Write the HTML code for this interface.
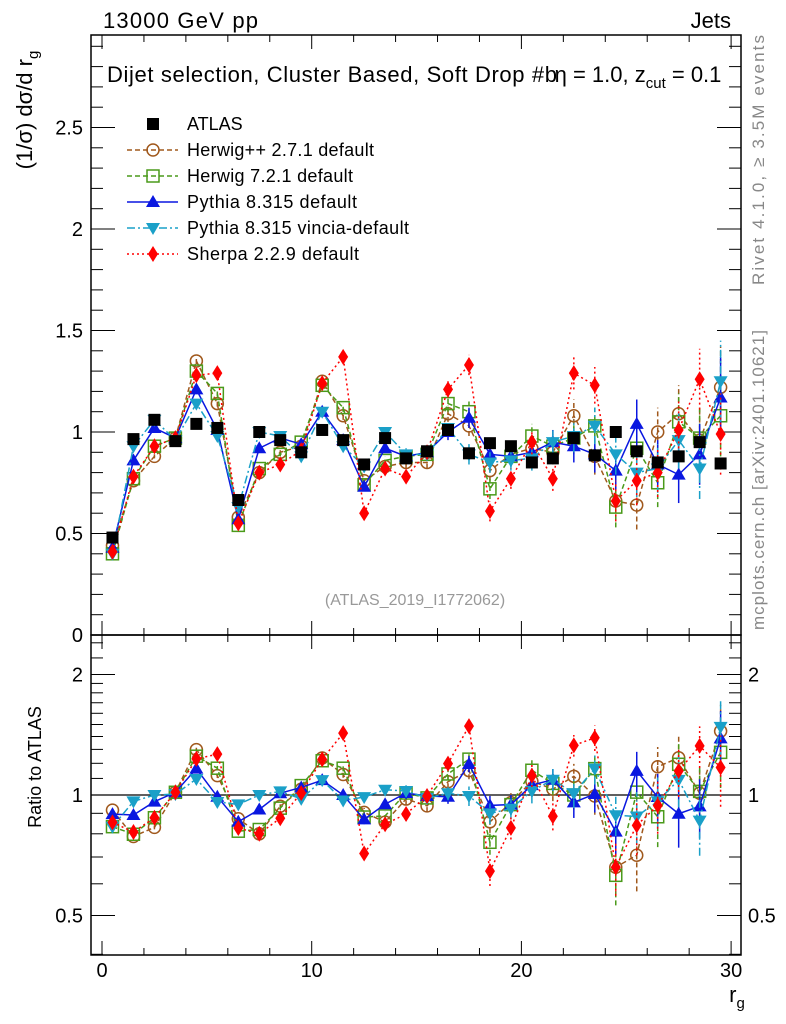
<!DOCTYPE html>
<html><head><meta charset="utf-8"><style>
body{margin:0;background:#fff;}
svg{display:block;font-family:"Liberation Sans",sans-serif;}
</style></head><body>
<svg id="c" width="786" height="1024" viewBox="0 0 786 1024" xmlns="http://www.w3.org/2000/svg">
<text x="103" y="28" font-size="22" textLength="155">13000 GeV pp</text>
<text x="731" y="28" font-size="22" text-anchor="end">Jets</text>
<text x="107" y="82" font-size="22"><tspan textLength="450">Dijet selection, Cluster Based, Soft Drop #b</tspan><tspan dx="-3">η = 1.0, z</tspan><tspan font-size="15" dy="6">cut</tspan><tspan dy="-6"> = 0.1</tspan></text>
<text transform="translate(32,110) rotate(-90)" font-size="22" text-anchor="middle">(1/σ) dσ/d r<tspan font-size="15" dy="6">g</tspan></text>
<text transform="translate(41,767) rotate(-90)" font-size="18" text-anchor="middle">Ratio to ATLAS</text>
<text transform="translate(764,160) rotate(-90)" font-size="17" fill="#888" text-anchor="middle" textLength="250">Rivet 4.1.0, ≥ 3.5M events</text>
<text transform="translate(764,480) rotate(-90)" font-size="17" fill="#888" text-anchor="middle" textLength="300">mcplots.cern.ch [arXiv:2401.10621]</text>
<text x="415" y="605" font-size="16" fill="#999" text-anchor="middle">(ATLAS_2019_I1772062)</text>
<text x="737" y="1002" font-size="22" text-anchor="middle">r<tspan font-size="15" dy="6">g</tspan></text>
<g id="main"></g>
<g id="ratio"></g>
<g id="legend"></g>
</svg>
<script>
const binCenters=[0.5,1.5,2.5,3.5,4.5,5.5,6.5,7.5,8.5,9.5,10.5,11.5,12.5,13.5,14.5,15.5,16.5,17.5,18.5,19.5,20.5,21.5,22.5,23.5,24.5,25.5,26.5,27.5,28.5,29.5];
const atlas=[0.48,0.965,1.06,0.955,1.04,1.02,0.665,1.0,0.96,0.9,1.01,0.96,0.84,0.97,0.87,0.905,1.01,0.895,0.945,0.93,0.85,0.87,0.97,0.885,1.0,0.905,0.85,0.88,0.95,0.845];
const herwigpp=[0.44,0.76,0.88,0.97,1.35,1.14,0.58,0.80,0.90,0.93,1.25,1.08,0.76,0.83,0.85,0.85,1.09,1.03,0.81,0.89,0.92,0.90,1.08,0.88,0.66,0.64,1.0,1.09,0.96,1.22];
const herwig7=[0.40,0.77,0.93,0.97,1.30,1.19,0.54,0.82,0.89,0.95,1.23,1.12,0.74,0.86,0.88,0.89,1.14,1.10,0.72,0.88,0.98,0.93,0.97,1.03,0.63,0.92,0.75,1.05,0.97,1.08];
const pythia=[0.43,0.86,1.02,0.97,1.21,1.01,0.57,0.92,0.97,0.94,1.10,0.96,0.73,0.92,0.88,0.90,1.00,1.07,0.89,0.88,0.90,0.95,0.93,0.89,0.81,1.04,0.84,0.79,0.89,1.17];
const vincia=[0.40,0.93,1.06,0.96,1.14,0.98,0.63,1.00,0.98,0.88,1.10,0.93,0.83,1.00,0.89,0.89,1.02,0.89,0.85,0.86,0.87,0.95,0.98,1.03,0.89,0.80,0.82,0.96,0.82,1.25];
const sherpa=[0.41,0.78,0.93,0.97,1.28,1.29,0.55,0.80,0.84,0.91,1.24,1.37,0.60,0.82,0.78,0.90,1.21,1.33,0.61,0.77,0.95,0.77,1.29,1.23,0.66,0.76,0.80,1.01,1.26,0.99];
const mcErr=[0.01,0.01,0.01,0.01,0.015,0.015,0.01,0.01,0.01,0.015,0.02,0.02,0.02,0.02,0.03,0.03,0.04,0.05,0.05,0.05,0.06,0.06,0.08,0.09,0.1,0.12,0.12,0.14,0.15,0.2];
const mainTicks=[0,0.5,1,1.5,2,2.5];
const mainTickLabels=["0","0.5","1","1.5","2","2.5"];
const ratioTicks=[0.5,1,2];
const ratioTickLabels=["0.5","1","2"];
const xTicks=[0,10,20,30];
const xTickLabels=["0","10","20","30"];

const NS="http://www.w3.org/2000/svg";
const L=91,R=741,MT=35,MB=635,RB=955;
const xs=v=>102+v*20.97;
const ym=v=>635-v*203;
const yr=v=>795-Math.log2(v)*120.5;
function mk(p,t,a){const e=document.createElementNS(NS,t);for(const k in a)e.setAttribute(k,a[k]);p.appendChild(e);return e;}
const main=document.getElementById('main'),ratio=document.getElementById('ratio'),leg=document.getElementById('legend');

function frame(g,top,bot,name){
 const r=mk(g,'rect',{x:L,y:top,width:R-L,height:bot-top,fill:'none',stroke:'#000','stroke-width':1.5});
 
 
 for(let v=0;v<=30;v++){
  const big=v%10==0, len=big?14:(v%2==0?7:0); if(!len)continue;
  mk(g,'line',{x1:xs(v),x2:xs(v),y1:bot,y2:bot-len,stroke:'#000'});
  mk(g,'line',{x1:xs(v),x2:xs(v),y1:top,y2:top+len,stroke:'#000'});
 }
}
frame(main,MT,MB,'main-frame');
frame(ratio,MB,RB,'ratio-frame');
for(let i=0;i<=29;i++){const v=i/10;const big=i%5==0;const len=big?24:12;
 mk(main,'line',{x1:L,x2:L+len,y1:ym(v),y2:ym(v),stroke:'#000'});
 mk(main,'line',{x1:R,x2:R-len,y1:ym(v),y2:ym(v),stroke:'#000'});}
mainTicks.forEach((v,i)=>{const t=mk(main,'text',{x:L-8,y:ym(v)+7,'font-size':20,'text-anchor':'end'});t.textContent=mainTickLabels[i];
 
 });
[0.4,0.5,0.6,0.7,0.8,0.9,1,1.1,1.2,1.3,1.4,1.5,1.6,1.7,1.8,1.9,2,2.2,2.4].forEach(v=>{const big=(v==0.5||v==1||v==2);const len=big?24:12;
 mk(ratio,'line',{x1:L,x2:L+len,y1:yr(v),y2:yr(v),stroke:'#000'});
 mk(ratio,'line',{x1:R,x2:R-len,y1:yr(v),y2:yr(v),stroke:'#000'});});
ratioTicks.forEach((v,i)=>{
 const t=mk(ratio,'text',{x:L-8,y:yr(v)+7,'font-size':20,'text-anchor':'end'});t.textContent=ratioTickLabels[i];
 
 
 const t2=mk(ratio,'text',{x:R+7,y:yr(v)+7,'font-size':20});t2.textContent=ratioTickLabels[i];
 
 });
xTicks.forEach((v,i)=>{const t=mk(ratio,'text',{x:xs(v),y:977,'font-size':20,'text-anchor':'middle'});t.textContent=xTickLabels[i];
 
 });
mk(ratio,'line',{x1:L,x2:R,y1:yr(1),y2:yr(1),stroke:'#000','stroke-width':1.3});

function marker(g,type,x,y,col,s){
 if(type=='sq')return mk(g,'rect',{x:x-6,y:y-6,width:12,height:12,fill:'#000'});
 if(type=='circ')return mk(g,'circle',{cx:x,cy:y,r:6,fill:'none',stroke:col,'stroke-width':1.5});
 if(type=='osq')return mk(g,'rect',{x:x-6,y:y-6,width:12,height:12,fill:'none',stroke:col,'stroke-width':1.5});
 if(type=='tri')return mk(g,'polygon',{points:`${x},${y-7} ${x-7},${y+5} ${x+7},${y+5}`,fill:col});
 if(type=='dtri')return mk(g,'polygon',{points:`${x},${y+7} ${x-7},${y-5} ${x+7},${y-5}`,fill:col});
 if(type=='dia')return mk(g,'polygon',{points:`${x},${y-8} ${x-5},${y} ${x},${y+8} ${x+5},${y}`,fill:col});
}
const series=[
 {name:'herwigpp',label:'Herwig++ 2.7.1 default',d:herwigpp,col:'#a0581c',m:'circ',dash:'5,3'},
 {name:'herwig7',label:'Herwig 7.2.1 default',d:herwig7,col:'#4a9a1a',m:'osq',dash:'5,3'},
 {name:'pythia',label:'Pythia 8.315 default',d:pythia,col:'#0a17e0',m:'tri',dash:''},
 {name:'vincia',label:'Pythia 8.315 vincia-default',d:vincia,col:'#1aa0c8',m:'dtri',dash:'8,3,2,3'},
 {name:'sherpa',label:'Sherpa 2.2.9 default',d:sherpa,col:'#f00',m:'dia',dash:'2,3'}];
series.forEach(s=>{
 const g=mk(main,'g',{});
 
 
 const gr=mk(ratio,'g',{});
 
 
 const pts=s.d.map((v,i)=>xs(binCenters[i])+','+ym(v)).join(' ');
 mk(g,'polyline',{points:pts,fill:'none',stroke:s.col,'stroke-width':1.5,'stroke-dasharray':s.dash});
 const rp=s.d.map((v,i)=>xs(binCenters[i])+','+yr(v/atlas[i])).join(' ');
 mk(gr,'polyline',{points:rp,fill:'none',stroke:s.col,'stroke-width':1.5,'stroke-dasharray':s.dash});
 s.d.forEach((v,i)=>{const x=xs(binCenters[i]),e=mcErr[i];
  mk(g,'line',{x1:x,x2:x,y1:ym(v-e),y2:ym(v+e),stroke:s.col,'stroke-width':1.5,'stroke-dasharray':s.dash});
  const r=v/atlas[i],er=e/atlas[i];
  mk(gr,'line',{x1:x,x2:x,y1:yr(Math.max(r-er,0.3)),y2:yr(r+er),stroke:s.col,'stroke-width':1.5,'stroke-dasharray':s.dash});
  const m=marker(g,s.m,x,ym(v),s.col);
  
  
  const m2=marker(gr,s.m,x,yr(r),s.col);
  
  
 });
});
atlas.forEach((v,i)=>{const m=marker(main,'sq',xs(binCenters[i]),ym(v),'#000');
 
 });
const ly=[124,150,176,202,228,254];
marker(leg,'sq',153,ly[0],'#000');
const lt0=mk(leg,'text',{x:187,y:ly[0]+6,'font-size':18});lt0.textContent='ATLAS';


const legW=[0,187,166,170,222,172];
series.forEach((s,k)=>{const y=ly[k+1];
 mk(leg,'line',{x1:127,x2:178,y1:y,y2:y,stroke:s.col,'stroke-width':1.5,'stroke-dasharray':s.dash});
 marker(leg,s.m,153,y,s.col);
 const t=mk(leg,'text',{x:187,y:y+6,'font-size':18,textLength:legW[k+1]});t.textContent=s.label;
 
 });
</script>
</body></html>
